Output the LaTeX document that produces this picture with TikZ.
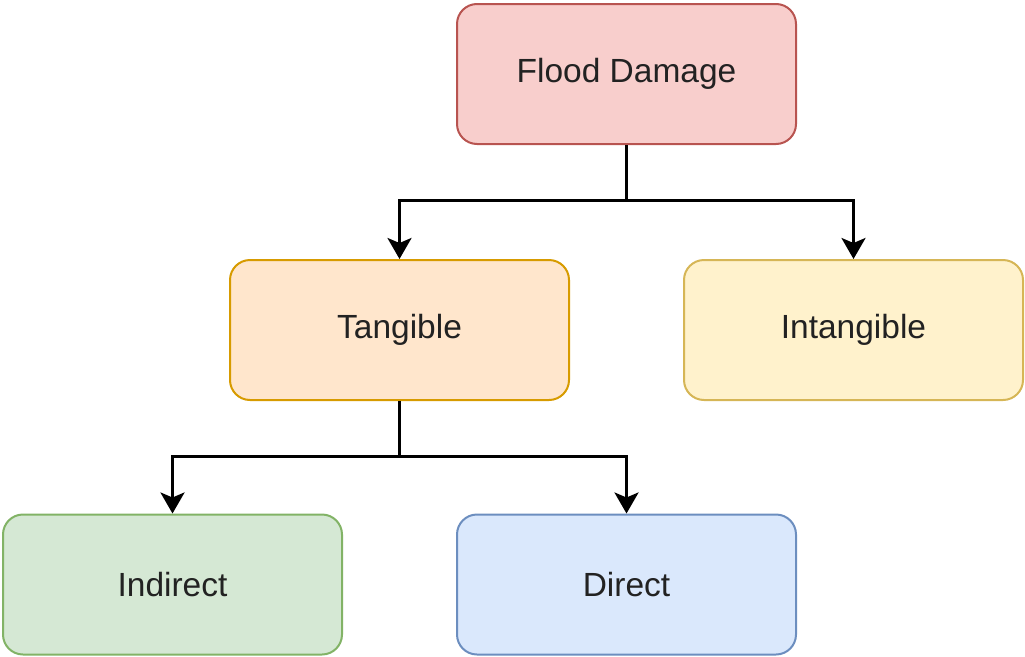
\documentclass[tikz,border=0pt]{standalone}
\usepackage{fontspec}
\setmainfont{Liberation Sans}
\usetikzlibrary{arrows.meta}
\definecolor{redf}{HTML}{F8CECC}\definecolor{reds}{HTML}{B85450}
\definecolor{oraf}{HTML}{FFE6CC}\definecolor{oras}{HTML}{D79B00}
\definecolor{yelf}{HTML}{FFF2CC}\definecolor{yels}{HTML}{D6B656}
\definecolor{grnf}{HTML}{D5E8D4}\definecolor{grns}{HTML}{82B366}
\definecolor{bluf}{HTML}{DAE8FC}\definecolor{blus}{HTML}{6C8EBF}
\definecolor{txt}{HTML}{222222}
\tikzset{
  box/.style={draw, line width=2pt, rounded corners=20pt, minimum width=339pt, minimum height=140pt,
    inner sep=0pt, font=\fontsize{33.5}{40}\selectfont, text=txt},
  conn/.style={line width=3pt, -{Stealth[length=21pt,width=24pt,inset=5pt]}, rounded corners=0pt}
}
\begin{document}
\begin{tikzpicture}[x=1pt,y=-1pt]
\useasboundingbox (0,0) rectangle (1025,656);
\node[box, fill=redf, draw=reds] (fd) at (626.5,74) {Flood Damage};
\node[box, fill=oraf, draw=oras] (tan) at (399.5,330) {Tangible};
\node[box, fill=yelf, draw=yels] (int) at (853.5,330) {Intangible};
\node[box, fill=grnf, draw=grns] (ind) at (172.5,584.5) {Indirect};
\node[box, fill=bluf, draw=blus] (dir) at (626.5,584.5) {Direct};
\draw[conn] (fd.south) -- ++(0,55) -| (tan.north);
\draw[conn] (fd.south) -- ++(0,55) -| (int.north);
\draw[conn] (tan.south) -- ++(0,55) -| (ind.north);
\draw[conn] (tan.south) -- ++(0,55) -| (dir.north);
\end{tikzpicture}
\end{document}
